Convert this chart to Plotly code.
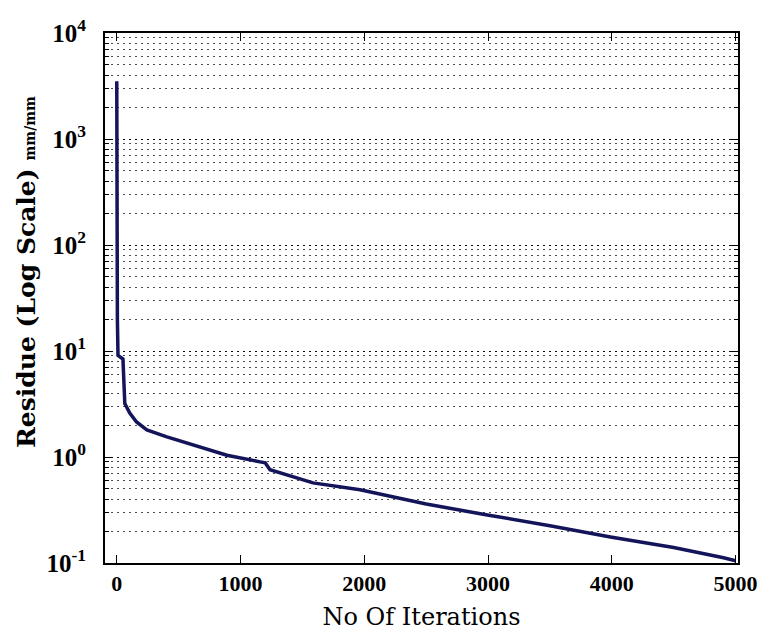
import plotly.graph_objects as go

iterations = [0, 0, 2, 5, 10, 30, 50, 65, 105, 160, 243, 405, 615, 890, 1157, 1200,
              1238, 1375, 1586, 1966, 2500, 2994, 3500, 3989, 4500, 4903, 5000]
residue = [3500, 200, 60, 20, 9.1, 8.7, 8.4, 3.2, 2.6, 2.14, 1.8, 1.55, 1.30, 1.04, 0.90, 0.88,
           0.76, 0.68, 0.57, 0.49, 0.36, 0.284, 0.225, 0.176, 0.14, 0.112, 0.105]

ytick_vals = [0.1, 1, 10, 100, 1000, 10000]
ytick_text = ["10<sup>-1</sup>", "10<sup>0</sup>", "10<sup>1</sup>", "10<sup>2</sup>",
              "10<sup>3</sup>", "10<sup>4</sup>"]
xtick_vals = [0, 1000, 2000, 3000, 4000, 5000]

x_title = "No Of Iterations"
y_title = "<b>Residue (Log Scale)</b> <span style='font-size:14px'><b>mm/mm</b></span>"

fig = go.Figure()
fig.add_trace(go.Scatter(x=iterations, y=residue, mode="lines",
                         line=dict(color="#14145a", width=3.5), showlegend=False))

serif = "Liberation Serif"
wide = "DejaVu Serif"
fig.update_layout(
    width=770, height=637,
    margin=dict(l=97, r=40, t=25, b=82),
    paper_bgcolor="white", plot_bgcolor="white",
    font=dict(family=serif, color="black", size=20),
)
fig.update_xaxes(
    range=[-95, 5020], tickvals=xtick_vals, automargin=False,
    ticks="inside", ticklen=8, tickcolor="black", mirror="allticks",
    showline=True, linecolor="black", linewidth=2,
    showgrid=False, zeroline=False,
    tickfont=dict(family=serif, size=22, color="black", weight="bold"),
    title=dict(text=x_title, font=dict(family=wide, size=24), standoff=13),
)
fig.update_yaxes(
    type="log", range=[-1, 4], tickvals=ytick_vals, ticktext=ytick_text, automargin=False,
    ticks="inside", ticklen=8, tickcolor="black", mirror="allticks",
    showline=True, linecolor="black", linewidth=2, ticklabelstandoff=12,
    showgrid=True, gridcolor="rgba(0,0,0,0.85)", griddash="2px,4px", gridwidth=1,
    minor=dict(dtick="D1", showgrid=True, gridcolor="rgba(0,0,0,0.7)", griddash="2px,4px",
               gridwidth=1, ticks="inside", ticklen=4, tickcolor="black"),
    zeroline=False,
    tickfont=dict(family=serif, size=25, color="black", weight="bold"),
)
fig.add_annotation(
    text=y_title, textangle=-90, xref="paper", yref="paper",
    x=-0.125, y=0.549, xanchor="center", yanchor="middle", showarrow=False,
    font=dict(family=wide, size=25, color="black"),
)

fig.write_html("out.html")
